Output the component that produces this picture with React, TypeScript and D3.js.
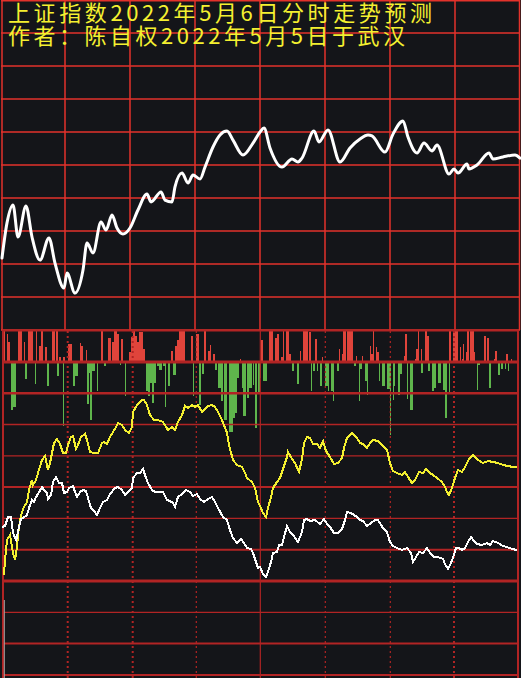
import React from 'react';
import * as d3 from 'd3';

const W = 521;
const H = 678;

const titleLine1 = '上证指数2022年5月6日分时走势预测';
const titleLine2 = '作者：陈自权2022年5月5日于武汉';

// Predicted index path: [time position, index value]
const pricePts: [number, number][] = [
  [2, 3024.0], [7, 3035.7], [13, 3041.7], [18, 3031.0], [26, 3041.3], [32, 3031.0], [40, 3023.3],
  [49, 3030.7], [55, 3022.3], [64, 3014.0], [67, 3019.0], [75, 3012.3], [83, 3020.0], [87, 3029.0],
  [93, 3025.7], [101, 3036.0], [106, 3033.3], [112, 3038.3], [117, 3034.0], [123, 3032.0], [130, 3034.0],
  [138, 3040.0], [147, 3045.3], [151, 3042.7], [161, 3046.0], [165, 3043.3], [172, 3042.7], [175, 3047.7],
  [182, 3052.3], [188, 3049.0], [193, 3051.7], [200, 3050.3], [205, 3054.3], [213, 3061.0], [220, 3065.0],
  [227, 3066.3], [233, 3063.3], [243, 3058.3], [253, 3062.3], [260, 3066.0], [264, 3067.3], [270, 3060.7],
  [282, 3054.3], [292, 3057.0], [298, 3056.0], [302, 3057.3], [314, 3066.3], [319, 3062.7], [328, 3066.7],
  [340, 3056.0], [350, 3060.7], [360, 3063.7], [368, 3065.0], [372, 3064.7], [385, 3059.3], [393, 3065.3],
  [403, 3069.7], [408, 3064.3], [417, 3059.0], [424, 3062.3], [432, 3059.7], [437, 3061.7], [449, 3052.0],
  [454, 3053.7], [458, 3052.3], [467, 3055.3], [469, 3053.7], [477, 3055.0], [489, 3059.0], [493, 3057.0],
  [503, 3057.7], [515, 3058.3], [520, 3057.3],
];

// Yellow indicator line: [time position, value]
const yellowPts: [number, number][] = [
  [4, 6], [5, 21], [7, 41], [10, 46], [13, 28], [15, 21], [17, 34], [18, 46], [20, 61], [22, 69], [24, 74],
  [27, 79], [29, 91], [32, 101], [33, 96], [36, 101], [38, 108], [42, 121], [45, 125], [48, 111], [50, 118],
  [52, 128], [54, 138], [57, 142], [60, 137], [63, 128], [66, 128], [68, 136], [71, 144], [73, 145], [76, 132],
  [78, 136], [81, 144], [85, 147], [87, 141], [90, 129], [94, 128], [98, 128], [102, 138], [104, 139], [107, 137],
  [110, 144], [113, 149], [116, 154], [118, 158], [122, 156], [125, 151], [129, 148], [132, 154], [133, 169],
  [137, 176], [142, 181], [144, 181], [147, 176], [150, 166], [154, 161], [158, 161], [163, 159], [166, 154],
  [168, 151], [172, 154], [175, 151], [178, 159], [182, 166], [185, 175], [188, 173], [192, 176], [195, 174],
  [198, 176], [202, 169], [205, 172], [208, 175], [212, 176], [215, 174], [218, 169], [221, 163], [224, 156],
  [227, 148], [229, 136], [233, 121], [237, 116], [242, 114], [245, 108], [247, 103], [252, 99], [255, 93],
  [258, 79], [260, 75], [263, 68], [266, 64], [268, 73], [271, 84], [273, 93], [277, 99], [280, 103], [283, 112],
  [287, 124], [288, 129], [292, 122], [295, 118], [299, 109], [302, 122], [304, 138], [307, 144], [310, 143],
  [313, 137], [317, 137], [320, 133], [323, 140], [326, 130], [330, 124], [334, 117], [338, 118], [342, 123],
  [344, 133], [347, 143], [352, 148], [357, 143], [360, 138], [363, 137], [367, 133], [370, 138], [373, 141],
  [378, 140], [382, 136], [387, 131], [390, 118], [393, 110], [397, 108], [402, 106], [405, 109], [408, 104],
  [412, 98], [415, 101], [419, 109], [423, 108], [426, 112], [430, 108], [433, 106], [437, 103], [442, 99],
  [445, 94], [447, 89], [449, 86], [452, 93], [455, 103], [458, 111], [462, 109], [465, 114], [469, 122],
  [473, 126], [478, 121], [483, 118], [488, 120], [493, 119], [498, 118], [503, 116], [508, 115], [513, 114],
  [517, 114],
];

// White indicator line: [time position, value]
const whitePts: [number, number][] = [
  [2, 54], [5, 55], [8, 64], [11, 64], [13, 48], [16, 41], [17, 44], [19, 54], [21, 62], [23, 63], [27, 66],
  [29, 73], [32, 81], [34, 79], [36, 84], [38, 87], [42, 94], [44, 91], [47, 88], [48, 82], [51, 86], [53, 99],
  [56, 104], [59, 98], [62, 98], [64, 88], [67, 89], [69, 93], [73, 95], [75, 89], [77, 84], [80, 89], [83, 91],
  [86, 90], [88, 83], [91, 73], [94, 70], [97, 66], [100, 73], [103, 79], [107, 81], [110, 87], [115, 93],
  [118, 94], [122, 91], [125, 86], [128, 89], [132, 93], [133, 103], [137, 108], [140, 108], [143, 112],
  [145, 106], [148, 98], [152, 91], [155, 89], [160, 89], [163, 89], [167, 81], [170, 80], [173, 78], [175, 74],
  [178, 84], [182, 87], [186, 91], [190, 89], [193, 85], [197, 87], [200, 82], [204, 79], [208, 82], [212, 84],
  [215, 79], [218, 73], [223, 64], [227, 61], [230, 51], [233, 43], [237, 38], [241, 42], [244, 38], [247, 33],
  [251, 32], [253, 28], [255, 22], [258, 13], [260, 14], [263, 7], [266, 4], [268, 9], [271, 19], [273, 28],
  [277, 29], [279, 36], [282, 36], [284, 44], [287, 55], [290, 49], [293, 46], [298, 39], [302, 49], [304, 61],
  [307, 62], [310, 60], [315, 61], [320, 57], [324, 62], [327, 57], [330, 54], [334, 48], [338, 48], [342, 52],
  [345, 61], [347, 69], [351, 68], [354, 66], [357, 64], [360, 61], [363, 60], [367, 55], [371, 58], [375, 61],
  [378, 61], [383, 53], [387, 49], [390, 39], [393, 35], [397, 33], [402, 31], [407, 33], [411, 28], [413, 19],
  [416, 24], [419, 29], [423, 28], [427, 33], [430, 28], [434, 24], [438, 24], [443, 22], [445, 17], [448, 12],
  [450, 16], [453, 23], [456, 33], [459, 33], [462, 31], [465, 33], [468, 39], [471, 44], [474, 40], [477, 37],
  [482, 36], [487, 38], [490, 36], [493, 40], [498, 38], [503, 35], [507, 34], [512, 32], [517, 31],
];

// Buy / sell flow bars: [start, end, value]
const flowBars: [number, number, number][] = [
  [2.7, 4.7, 40], [7, 7.7, 28], [7.7, 10, 20], [18.3, 21.7, 40], [24, 24.7, 20], [28, 32.7, 40], [36, 37.3, 40],
  [39, 41.3, 16], [41.3, 42.7, 40], [45, 46.7, 15], [52, 54.7, 40], [56, 58, 40], [59, 61, 5], [63.3, 65.3, 5],
  [68.3, 71.7, 18], [80, 81, 19], [81, 83, 16], [86, 86.7, 12], [101, 103, 40], [108, 111, 24], [112, 114, 20],
  [114, 116.7, 40], [116.7, 118.7, 28], [120.7, 123, 23], [129, 131, 10], [131, 132.7, 25], [132.7, 134.7, 40],
  [134.7, 137.3, 26], [137.3, 139.3, 20], [139.3, 142.7, 30], [142.7, 145, 13], [171, 173, 11], [175, 176.7, 16],
  [176.7, 179.3, 22], [179.3, 182.7, 40], [182.7, 185, 40], [190.7, 192.7, 26], [196, 197.3, 28], [197.3, 199.3, 28],
  [204.3, 206, 40], [208, 210, 11], [210, 211.3, 17], [212.7, 214.7, 8], [240, 241.3, 3],
  [260.7, 262.7, 22], [269.3, 272.7, 40], [275, 277.3, 24], [277.3, 279.3, 28], [280.7, 283.3, 5], [282.7, 284, 40],
  [286, 288.7, 40], [288.7, 290.7, 8], [300, 300.7, 11], [303.3, 308.3, 40], [309.3, 310.7, 30], [315, 316.7, 23],
  [322, 323, 5], [339, 340, 13], [342, 343.3, 8], [343.3, 346, 40], [347.3, 352.7, 40], [356, 357.3, 6], [362, 363, 6],
  [370, 371, 16], [371, 373, 8], [372.7, 374, 40], [376, 377.3, 15], [377.3, 379, 10], [404, 405.3, 6], [405, 407, 28],
  [415, 416.7, 3], [416, 418, 13], [418, 419.3, 40], [421.3, 422, 13], [425, 427.3, 40], [426.7, 429, 26],
  [449.3, 451, 40], [452.7, 458.3, 40], [460, 461, 15], [461.7, 463.3, 3], [462.7, 464, 18], [466, 467.3, 10],
  [467, 469.3, 40], [470, 474, 40], [473.3, 475, 10], [484, 485.7, 26], [486.7, 489, 24], [494, 495, 3],
  [495, 497, 11], [506, 508, 8], [510.7, 512, 3],
  [11, 12.7, -48], [12.7, 16, -45], [25, 26.7, -17], [34.7, 35.7, -22], [47, 49, -24], [57.3, 58.7, -14],
  [62.7, 63.7, -64], [72.7, 75.3, -24], [75.3, 78, -14], [86.7, 88.7, -42], [88.7, 90, -11], [90, 92, -58],
  [92, 94.7, -9], [96.7, 97.7, -29], [104, 106, -4], [120, 121, -3], [125, 126, -34], [145.7, 148.3, -29],
  [148.3, 150, -34], [150, 152, -21], [152, 154, -41], [154, 156, -21], [156.7, 159.3, -4], [159.3, 161.7, -8],
  [163.3, 164.7, -4], [164.7, 165.7, -45], [168.3, 170, -24], [173.3, 176, -13], [192.7, 193.7, -34],
  [199.3, 200.7, -43], [201.7, 204, -12], [215, 217.3, -8], [218.3, 220.7, -26], [220.7, 223.3, -39],
  [224, 226.7, -58], [229.3, 232.7, -70], [232.7, 235, -56], [235, 237.3, -51], [237.3, 239.3, -16],
  [241.7, 243.3, -26], [243.3, 246, -54], [246.7, 249.3, -36], [249.3, 251.7, -26], [252.7, 254, -23],
  [255, 256.7, -66], [258.3, 260, -31],
  [260, 261.3, -16], [263.3, 266.7, -19], [291.7, 294, -9], [296.7, 299.3, -22], [310.7, 312, -29], [313.3, 315, -9],
  [316.7, 317.7, -9], [320, 322, -24], [325.3, 328.7, -24], [328, 329, -29], [330.7, 334, -29], [333.3, 334.3, -39],
  [336.7, 338.7, -9], [354, 356, -4], [358.7, 360, -39], [360, 362, -7], [365, 367.3, -19], [366.7, 367.7, -33],
  [378.7, 380, -19], [382, 384.7, -24], [386.7, 390, -27], [390, 391, -73], [392.7, 395.3, -24], [393.3, 394, -38],
  [397.7, 400, -33], [400, 402, -12], [406.7, 408, -37], [410, 412.7, -48], [421.3, 423.3, -11], [428.3, 430, -9],
  [432, 434, -29], [434, 436, -26], [438, 440.7, -21], [442.7, 445.3, -28], [445.3, 447.3, -56], [449, 450, -31],
  [476.7, 480, -3], [477.3, 478.3, -28], [488.7, 491.3, -26], [498, 500, -13], [500.7, 503, -7], [505, 506, -7],
  [507.7, 509, -9],
];

// Grid definitions
const topColTicks = [2, 65, 130, 195, 260, 325, 390, 455, 519.5];
const priceTicks = d3.range(3000, 3111, 11);
const lowerRowSteps = d3.range(-3, 9);
const lowerRowWidths = [2, 2, 1.3, 3, 2, 1.3, 2, 1.3, 1.3, 2.5, 3, 2];
const lowerCols: { t: number; kind: string }[] = [
  { t: 3, kind: 'border' },
  { t: 67.7, kind: 'thickDot' },
  { t: 132.7, kind: 'thickDot' },
  { t: 196.3, kind: 'thinDot' },
  { t: 260.3, kind: 'solid' },
  { t: 325.3, kind: 'thinDot' },
  { t: 390.3, kind: 'thinDot' },
  { t: 454, kind: 'thickDot' },
  { t: 518, kind: 'border' },
];

const BG = '#141519';
const TOP_GRID = '#e3322b';
const LOW_GRID = '#b22424';
const RED_BAR = '#e0443b';
const GREEN_BAR = '#5fb54c';
const YELLOW = '#f4f030';

export default function App() {
  const x = d3.scaleLinear().domain([0, 520]).range([0, 520]);
  const yPrice = d3.scaleLinear().domain([3000, 3110]).range([330, 0]);
  const yFlow = d3.scaleLinear().domain([-80, 32]).range([442, 330]).clamp(true);
  const yInd = d3.scaleLinear().domain([0, 250.4]).range([581, 330.6]);
  const rowStep = 31.3;

  const priceLine = d3
    .line<[number, number]>()
    .x((d) => x(d[0]))
    .y((d) => yPrice(d[1]))
    .curve(d3.curveMonotoneX);

  const indLine = d3
    .line<[number, number]>()
    .x((d) => x(d[0]))
    .y((d) => yInd(d[1]))
    .curve(d3.curveLinear);

  const font = "'Noto Sans CJK SC', 'Noto Sans CJK TC', sans-serif";

  return (
    <svg
      width={W}
      height={H}
      viewBox={`0 0 ${W} ${H}`}
      style={{ position: 'fixed', left: 0, top: 0, display: 'block', background: BG }}
    >
      <rect x={0} y={0} width={W} height={H} fill={BG} />

      {/* top panel grid */}
      <g>
        {priceTicks.map((p, i) => (
          <line
            key={'ph' + i}
            x1={x(1)}
            x2={x(520)}
            y1={Math.max(0.75, yPrice(p))}
            y2={Math.max(0.75, yPrice(p))}
            stroke={TOP_GRID}
            strokeWidth={1.5}
          />
        ))}
        {topColTicks.map((t, i) => (
          <line key={'pv' + i} x1={x(t)} x2={x(t)} y1={0} y2={330} stroke={TOP_GRID} strokeWidth={1.5} />
        ))}
      </g>

      {/* predicted index line */}
      <path
        d={priceLine(pricePts) || ''}
        fill="none"
        stroke="#ffffff"
        strokeWidth={3}
        strokeLinejoin="round"
        strokeLinecap="round"
      />

      {/* flow bars */}
      <g shapeRendering="crispEdges">
        {flowBars.map((b, i) => {
          const y0 = yFlow(0);
          const y1 = yFlow(b[2]);
          return (
            <rect
              key={'b' + i}
              x={x(b[0])}
              width={Math.max(1, x(b[1]) - x(b[0]))}
              y={Math.min(y0, y1)}
              height={Math.abs(y1 - y0)}
              fill={b[2] > 0 ? RED_BAR : GREEN_BAR}
            />
          );
        })}
      </g>

      {/* lower grid */}
      <g>
        {lowerRowSteps.map((k, i) => (
          <line
            key={'lh' + i}
            x1={x(2)}
            x2={x(519)}
            y1={yInd(k * rowStep)}
            y2={yInd(k * rowStep)}
            stroke={LOW_GRID}
            strokeWidth={lowerRowWidths[i]}
          />
        ))}
        {lowerCols.map((c, i) => {
          const common = { x1: x(c.t), x2: x(c.t), y1: 331, y2: H, stroke: LOW_GRID };
          if (c.kind === 'border') return <line key={'lv' + i} {...common} strokeWidth={2} />;
          if (c.kind === 'solid') return <line key={'lv' + i} {...common} strokeWidth={1.2} />;
          if (c.kind === 'thickDot')
            return <line key={'lv' + i} {...common} strokeWidth={2} strokeDasharray="2 3" />;
          return <line key={'lv' + i} {...common} strokeWidth={1.2} strokeDasharray="2 3" />;
        })}
        <line x1={x(4.3)} x2={x(4.3)} y1={600} y2={H} stroke="#a8a8a8" strokeWidth={1} />
      </g>

      {/* indicator lines */}
      <g shapeRendering="crispEdges">
        <path d={indLine(yellowPts) || ''} fill="none" stroke={YELLOW} strokeWidth={2} />
        <path d={indLine(whitePts) || ''} fill="none" stroke="#ffffff" strokeWidth={2} />
      </g>

      {/* title */}
      <g fill={YELLOW} fontFamily={font} fontSize={22}>
        <text x={8} y={21} textLength={424} lengthAdjust="spacing">
          {titleLine1}
        </text>
        <text x={8} y={44} textLength={397} lengthAdjust="spacing">
          {titleLine2}
        </text>
      </g>
    </svg>
  );
}
